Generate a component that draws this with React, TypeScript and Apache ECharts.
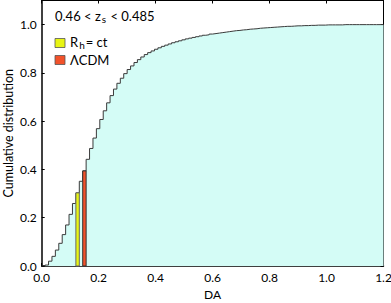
import React, { useEffect, useRef } from "react";
import * as echarts from "echarts";

const BIN_WIDTH = 0.012;
const cdfValues: number[] = [
  0.0, 0.004, 0.02, 0.04, 0.066, 0.094, 0.13, 0.17, 0.214, 0.259,
  0.303, 0.351, 0.394, 0.442, 0.487, 0.53, 0.569, 0.607, 0.643, 0.676,
  0.706, 0.733, 0.757, 0.778, 0.797, 0.814, 0.829, 0.843, 0.855, 0.866,
  0.876, 0.884, 0.891, 0.898, 0.904, 0.91, 0.915, 0.92, 0.925, 0.929,
  0.933, 0.937, 0.941, 0.944, 0.947, 0.95, 0.953, 0.956, 0.958, 0.961,
  0.963, 0.965, 0.967, 0.969, 0.971, 0.973, 0.975, 0.976, 0.978, 0.979,
  0.981, 0.982, 0.983, 0.985, 0.986, 0.987, 0.988, 0.989, 0.99, 0.991,
  0.992, 0.993, 0.993, 0.994, 0.995, 0.995, 0.996, 0.996, 0.997, 0.997,
  0.998, 0.998, 0.998, 0.999, 0.999, 0.999, 0.999, 0.999, 1.0, 1.0,
  1.0, 1.0, 1.0, 1.0, 1.0, 1.0, 1.0, 1.0, 1.0, 1.0,
];
const xTicks = [0, 0.2, 0.4, 0.6, 0.8, 1.0, 1.2];
const yTicks = [0, 0.2, 0.4, 0.6, 0.8, 1.0];
// highlighted bins: [binIndex, label, color]
const highlightBins: [number, string, string][] = [
  [10, "Rh= ct", "#e8f514"],
  [12, "ΛCDM", "#f2522a"],
];
const highlightBorders = ["#666666", "#333333"];

const FONT = "Lato";

export default function App() {
  const ref = useRef<HTMLDivElement>(null);
  useEffect(() => {
    if (!ref.current) return;
    const chart = echarts.init(ref.current, undefined, { renderer: "svg" });
    const stepData: [number, number][] = cdfValues.map((v, i) => [
      +(i * BIN_WIDTH).toFixed(3),
      v,
    ]);
    stepData.push([1.2, cdfValues[cdfValues.length - 1]]);
    const barData = highlightBins.map(([k, , c], i) => ({
      value: [k * BIN_WIDTH, (k + 1) * BIN_WIDTH, cdfValues[k]],
      itemStyle: { color: c, borderColor: highlightBorders[i] },
    }));
    const axisLabelStyle = { fontFamily: FONT, fontSize: 12, color: "#000" };
    chart.setOption({
      animation: false,
      grid: { left: 41.7, right: 7.5, top: 0.5, bottom: 37, outerBoundsMode: "none", containLabel: false },
      xAxis: [
        {
          type: "value",
          min: 0,
          max: 1.2,
          interval: 0.2,
          name: "DA",
          nameLocation: "middle",
          nameGap: 22,
          nameMoveOverlap: false,
          nameTextStyle: { fontFamily: FONT, fontSize: 12, color: "#000" },
          axisLine: { show: true, onZero: false, lineStyle: { color: "#000", width: 1.5 } },
          axisTick: { show: true, inside: true, length: 3, lineStyle: { color: "#000" } },
          axisLabel: {
            ...axisLabelStyle,
            margin: 5,
            formatter: (v: number) =>
              xTicks.some((t) => Math.abs(t - v) < 1e-6) ? v.toFixed(1) : "",
          },
          splitLine: { show: false },
        },
        {
          type: "value",
          position: "top",
          min: 0,
          max: 1.2,
          interval: 0.2,
          axisLine: { show: true, onZero: false, lineStyle: { color: "#000", width: 1 } },
          axisTick: { show: true, inside: true, length: 3, lineStyle: { color: "#000" } },
          axisLabel: { show: false },
          splitLine: { show: false },
        },
      ],
      yAxis: [
        {
          type: "value",
          min: 0,
          max: 1.1,
          interval: 0.2,
          name: "Cumulative distribution",
          nameLocation: "middle",
          nameGap: 27,
          nameMoveOverlap: false,
          nameTextStyle: { fontFamily: FONT, fontSize: 12.5, color: "#000", lineHeight: 13 },
          axisLine: { show: true, onZero: false, lineStyle: { color: "#000", width: 1.5 } },
          axisTick: { show: true, inside: true, length: 3, lineStyle: { color: "#000" } },
          axisLabel: {
            ...axisLabelStyle,
            margin: 5,
            formatter: (v: number) =>
              yTicks.some((t) => Math.abs(t - v) < 1e-6) ? v.toFixed(1) : "",
          },
          splitLine: { show: false },
        },
        {
          type: "value",
          position: "right",
          min: 0,
          max: 1.1,
          interval: 0.2,
          axisLine: { show: true, onZero: false, lineStyle: { color: "#000", width: 1 } },
          axisTick: { show: true, inside: true, length: 3, lineStyle: { color: "#000" } },
          axisLabel: { show: false },
          splitLine: { show: false },
        },
      ],
      series: [
        {
          type: "line",
          step: "end",
          data: stepData,
          symbol: "none",
          lineStyle: { color: "#3a3a3a", width: 1 },
          areaStyle: { color: "#d4fcf6", opacity: 1, origin: "start" },
          z: 1,
        },
        {
          type: "custom",
          data: barData,
          z: 3,
          renderItem: (params: any, api: any) => {
            const p0 = api.coord([api.value(0), 0]);
            const p1 = api.coord([api.value(1), api.value(2)]);
            const style = api.style();
            return {
              type: "rect",
              shape: { x: p0[0], y: p1[1], width: p1[0] - p0[0], height: p0[1] - p1[1] },
              style: { fill: style.fill, stroke: (barData[params.dataIndex].itemStyle as any).borderColor, lineWidth: 1 },
            };
          },
        },
      ],
      graphic: [
        {
          type: "text",
          left: 55,
          top: 9,
          style: {
            text: "0.46 < z{s|s} < 0.485",
            font: `13px ${FONT}`,
            fill: "#000",
            rich: { s: { fontSize: 10, fontFamily: FONT, padding: [7, 1, 0, 1] } },
          },
        },
        {
          type: "rect",
          shape: { x: 55, y: 38.5, width: 10, height: 9 },
          style: { fill: highlightBins[0][2], stroke: "#555", lineWidth: 0.8 },
        },
        {
          type: "rect",
          shape: { x: 55, y: 55.5, width: 10, height: 9 },
          style: { fill: highlightBins[1][2], stroke: "#555", lineWidth: 0.8 },
        },
        {
          type: "text",
          left: 70,
          top: 35,
          style: {
            text: "R{s|h}= ct",
            font: `13px ${FONT}`,
            fill: "#000",
            rich: { s: { fontSize: 10, fontFamily: FONT, padding: [7, 1, 0, 1] } },
          },
        },
        {
          type: "text",
          left: 70,
          top: 53,
          style: { text: highlightBins[1][1], font: `13px ${FONT}`, fill: "#000" },
        },
      ],
    });
    return () => chart.dispose();
  }, []);
  return <div ref={ref} style={{ width: 391, height: 303, position: "absolute", left: 0, top: 0 }} />;
}
